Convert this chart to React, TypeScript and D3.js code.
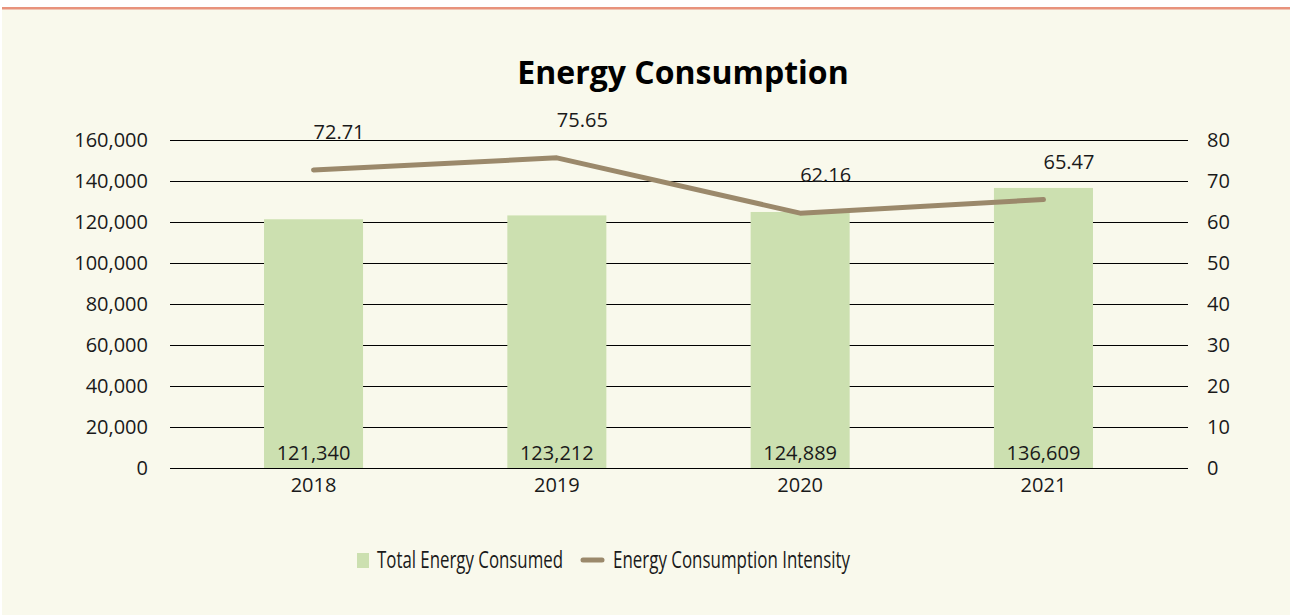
import React from "react";
import * as d3 from "d3";

const years = ["2018", "2019", "2020", "2021"];
const totalEnergy = [121340, 123212, 124889, 136609];
const intensity = [72.71, 75.65, 62.16, 65.47];
const leftTicks = [0, 20000, 40000, 60000, 80000, 100000, 120000, 140000, 160000];
const rightTicks = [0, 10, 20, 30, 40, 50, 60, 70, 80];
const seriesNames = ["Total Energy Consumed", "Energy Consumption Intensity"];

const W = 1290;
const H = 615;
const FONT = "'Open Sans', 'Noto Sans', sans-serif";
const BAR = "#CCE0B0";
const LINE = "#9B896B";
const TEXT = "#1a1a1a";
const FS = 20;

export default function App() {
  const x = d3.scaleBand<string>().domain(years).range([192, 1165]).paddingInner(0.593).paddingOuter(0.296);
  const yL = d3.scaleLinear().domain([0, 160000]).range([468, 140]);
  const yR = d3.scaleLinear().domain([0, 80]).range([468, 140]);
  const fmt = d3.format(",");
  const cx = (d: string) => (x(d) as number) + x.bandwidth() / 2;
  const line = d3
    .line<number>()
    .x((_, i) => cx(years[i]))
    .y((d) => yR(d));

  React.useEffect(() => {
    document.body.style.margin = "0";
  }, []);

  return (
    <svg width={W} height={H} style={{ display: "block", fontFamily: FONT }}>
      <rect x={0} y={0} width={W} height={H} fill="#ffffff" />
      <rect x={2} y={8} width={W - 2} height={H - 8} fill="#F9F9EC" />
      <rect x={2} y={7} width={W - 2} height={2.5} fill="#E8927C" />
      <text x={683} y={84} textAnchor="middle" fontSize={32} fontWeight={700} fill="#000">
        Energy Consumption
      </text>
      {leftTicks.map((t) => (
        <line key={t} x1={170} x2={1188} y1={Math.round(yL(t)) + 0.5} y2={Math.round(yL(t)) + 0.5} stroke="#000" strokeWidth={1} shapeRendering="crispEdges" />
      ))}
      {leftTicks.map((t) => (
        <text key={t} x={148} y={yL(t)} dy="0.35em" textAnchor="end" fontSize={FS} fill={TEXT}>
          {fmt(t)}
        </text>
      ))}
      {rightTicks.map((t) => (
        <text key={t} x={1207} y={yR(t)} dy="0.35em" textAnchor="start" fontSize={FS} fill={TEXT}>
          {t}
        </text>
      ))}
      {years.map((yr, i) => (
        <rect key={yr} x={x(yr)} y={yL(totalEnergy[i])} width={x.bandwidth()} height={yL(0) - yL(totalEnergy[i])} fill={BAR} />
      ))}
      {years.map((yr, i) => (
        <text key={yr} x={cx(yr)} y={yL(0) - 15} dy="0.35em" textAnchor="middle" fontSize={FS} fill={TEXT}>
          {fmt(totalEnergy[i])}
        </text>
      ))}
      {years.map((yr) => (
        <text key={yr} x={cx(yr)} y={485} dy="0.35em" textAnchor="middle" fontSize={FS} fill={TEXT}>
          {yr}
        </text>
      ))}
      <path d={line(intensity) || ""} fill="none" stroke={LINE} strokeWidth={5} strokeLinecap="round" strokeLinejoin="round" />
      {years.map((yr, i) => (
        <text key={yr} x={cx(yr)} y={yR(intensity[i]) - 38} dy="0.35em" textAnchor="start" fontSize={FS} fill={TEXT}>
          {intensity[i].toFixed(2)}
        </text>
      ))}
      <g>
        <rect x={357} y={553} width={12} height={15} fill={BAR} />
        <text x={377} y={560} dy="0.35em" fontSize={23} fill={TEXT} textLength={186} lengthAdjust="spacingAndGlyphs">
          {seriesNames[0]}
        </text>
        <line x1={583} x2={602} y1={560} y2={560} stroke={LINE} strokeWidth={5} strokeLinecap="round" />
        <text x={613} y={560} dy="0.35em" fontSize={23} fill={TEXT} textLength={237} lengthAdjust="spacingAndGlyphs">
          {seriesNames[1]}
        </text>
      </g>
    </svg>
  );
}
